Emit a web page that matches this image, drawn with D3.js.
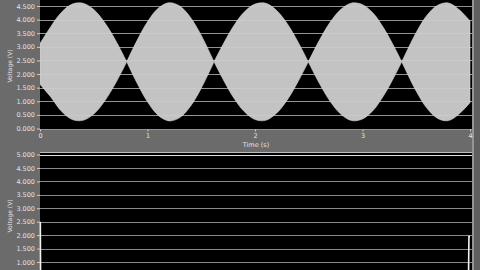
<!DOCTYPE html>
<html>
<head>
<meta charset="utf-8">
<style>
    body { margin: 0; background: #6b6b6b; }
    svg { display: block; }
    .axis text { fill: #e2e2e2; font-family: "DejaVu Sans", sans-serif; font-size: 6.5px; }
    .axis line { stroke: #d0d0d0; }
    .axis .domain { display: none; }
</style>
</head>
<body>
<svg width="480" height="270"></svg>
<script src="https://d3js.org/d3.v7.min.js"></script>
<script>
    // envelope of the top trace (s, V)
    var time = [0, 0.1, 0.2, 0.3, 0.4, 0.5, 0.6, 0.7, 0.807,
        0.9, 1.0, 1.1, 1.2, 1.3, 1.4, 1.5, 1.619,
        1.7, 1.8, 1.9, 2.0, 2.1, 2.2, 2.3, 2.4, 2.496,
        2.6, 2.7, 2.8, 2.9, 3.0, 3.1, 3.2, 3.3, 3.365,
        3.4, 3.5, 3.6, 3.7, 3.8, 3.9, 4.0];
    var upper = [3.12, 3.74, 4.27, 4.57, 4.60, 4.37, 3.90, 3.26, 2.45,
        3.21, 3.92, 4.42, 4.62, 4.50, 4.08, 3.42, 2.45,
        3.07, 3.76, 4.28, 4.57, 4.60, 4.34, 3.85, 3.18, 2.45,
        3.25, 3.91, 4.38, 4.61, 4.55, 4.23, 3.67, 2.96, 2.45,
        2.74, 3.53, 4.16, 4.53, 4.61, 4.36, 3.95];
    var lower = [1.62, 1.16, 0.63, 0.33, 0.30, 0.53, 1.00, 1.64, 2.45,
        1.69, 0.98, 0.48, 0.28, 0.40, 0.82, 1.48, 2.45,
        1.83, 1.14, 0.62, 0.33, 0.30, 0.56, 1.05, 1.72, 2.45,
        1.65, 0.99, 0.52, 0.29, 0.35, 0.67, 1.23, 1.94, 2.45,
        2.16, 1.37, 0.74, 0.37, 0.29, 0.54, 0.95];
    var nodes = [0.807, 1.619, 2.496, 3.365];

    // bottom trace
    var time2 = [0.003, 0.006, 3.985, 3.99, 4.0];
    var volt2 = [2.5, 0, 0, 1.95, 1.95];

    var xTicks = [0, 1, 2, 3, 4];
    var yTicksTop = [0, 0.5, 1, 1.5, 2, 2.5, 3, 3.5, 4, 4.5];
    var yTicksBottom = [1, 1.5, 2, 2.5, 3, 3.5, 4, 4.5, 5];

    var svg = d3.select("svg");

    var x = d3.scaleLinear().domain([0, 4]).range([40, 470]);
    var yTop = d3.scaleLinear().domain([0, 4.5]).range([128.5, 6]);
    var yBot = d3.scaleLinear().domain([1, 5]).range([262, 154.5]);

    var fmt = d3.format(".3f");

    // right edge strip
    svg.append("rect").attr("x", 472).attr("y", 0).attr("width", 2).attr("height", 270).attr("fill", "#959595");
    svg.append("rect").attr("x", 474).attr("y", 0).attr("width", 6).attr("height", 270).attr("fill", "#5f5f5f");

    // ---- top panel ----
    var gTop = svg.append("g");
    gTop.append("clipPath").attr("id", "clipTop")
        .append("rect").attr("x", 40).attr("y", 0).attr("width", 432).attr("height", 129.5);
    gTop.append("rect").attr("x", 40).attr("y", 0).attr("width", 432).attr("height", 129.5).attr("fill", "#000");

    gTop.append("g").selectAll("line")
        .data(yTicksTop)
        .enter().append("line")
        .attr("x1", 40).attr("x2", 472)
        .attr("y1", function(d) { return Math.round(yTop(d)) + 0.5; })
        .attr("y2", function(d) { return Math.round(yTop(d)) + 0.5; })
        .attr("stroke", "#858585");

    // split envelope into lobes at the nodes so the crossings stay pointed
    var pts = time.map(function(t, i) { return {t: t, hi: upper[i], lo: lower[i]}; });
    var lobes = [], cur = [];
    pts.forEach(function(p) {
        cur.push(p);
        if (nodes.indexOf(p.t) >= 0) { lobes.push(cur); cur = [p]; }
    });
    lobes.push(cur);

    var area = d3.area()
        .x(function(d) { return x(d.t); })
        .y0(function(d) { return yTop(d.lo); })
        .y1(function(d) { return yTop(d.hi); })
        .curve(d3.curveCatmullRom);

    gTop.append("g").attr("clip-path", "url(#clipTop)")
        .selectAll("path")
        .data(lobes)
        .enter().append("path")
        .attr("d", area)
        .attr("fill", "#c3c3c3")
        .attr("stroke", "#d6d6d6")
        .attr("stroke-width", 0.6);

    gTop.append("g").selectAll("line")
        .data(yTicksTop)
        .enter().append("line")
        .attr("x1", 40).attr("x2", 472)
        .attr("y1", function(d) { return Math.round(yTop(d)) + 0.5; })
        .attr("y2", function(d) { return Math.round(yTop(d)) + 0.5; })
        .attr("stroke", "#ffffff")
        .attr("stroke-opacity", 0.12);

    gTop.append("g")
        .attr("class", "axis")
        .attr("transform", "translate(40,0)")
        .call(d3.axisLeft(yTop).tickValues(yTicksTop).tickFormat(fmt).tickSize(3).tickPadding(2));

    gTop.append("g")
        .attr("class", "axis")
        .attr("transform", "translate(0,129.5)")
        .call(d3.axisBottom(x).tickValues(xTicks).tickFormat(d3.format("d")).tickSize(2).tickPadding(1.5));

    gTop.append("text")
        .attr("x", 256).attr("y", 147)
        .attr("text-anchor", "middle")
        .attr("fill", "#e2e2e2")
        .attr("font-family", "DejaVu Sans, sans-serif")
        .attr("font-size", 6.5)
        .text("Time (s)");

    gTop.append("text")
        .attr("transform", "translate(12,66) rotate(-90)")
        .attr("text-anchor", "middle")
        .attr("fill", "#e2e2e2")
        .attr("font-family", "DejaVu Sans, sans-serif")
        .attr("font-size", 6)
        .text("Voltage (V)");

    // ---- bottom panel ----
    var gBot = svg.append("g");
    gBot.append("rect").attr("x", 40).attr("y", 153).attr("width", 432).attr("height", 120).attr("fill", "#000");
    gBot.append("line").attr("x1", 40).attr("x2", 472).attr("y1", 152.5).attr("y2", 152.5).attr("stroke", "#bdbdbd");

    gBot.append("clipPath").attr("id", "clipBot")
        .append("rect").attr("x", 39).attr("y", 153).attr("width", 433).attr("height", 120);

    gBot.append("g").selectAll("line")
        .data(yTicksBottom)
        .enter().append("line")
        .attr("x1", 40).attr("x2", 472)
        .attr("y1", function(d) { return Math.round(yBot(d)) + 0.5; })
        .attr("y2", function(d) { return Math.round(yBot(d)) + 0.5; })
        .attr("stroke", function(d) { return d === 5 ? "#e0e0e0" : "#8a8a8a"; });

    var line = d3.line()
        .x(function(d, i) { return x(time2[i]); })
        .y(function(d) { return yBot(d); });

    gBot.append("path")
        .attr("clip-path", "url(#clipBot)")
        .attr("d", line(volt2))
        .attr("fill", "none")
        .attr("stroke", "#f2f2f2")
        .attr("stroke-width", 1.6);

    gBot.append("g")
        .attr("class", "axis")
        .attr("transform", "translate(40,0)")
        .call(d3.axisLeft(yBot).tickValues(yTicksBottom).tickFormat(fmt).tickSize(3).tickPadding(2));

    gBot.append("text")
        .attr("transform", "translate(12,216) rotate(-90)")
        .attr("text-anchor", "middle")
        .attr("fill", "#e2e2e2")
        .attr("font-family", "DejaVu Sans, sans-serif")
        .attr("font-size", 6)
        .text("Voltage (V)");
</script>
</body>
</html>
